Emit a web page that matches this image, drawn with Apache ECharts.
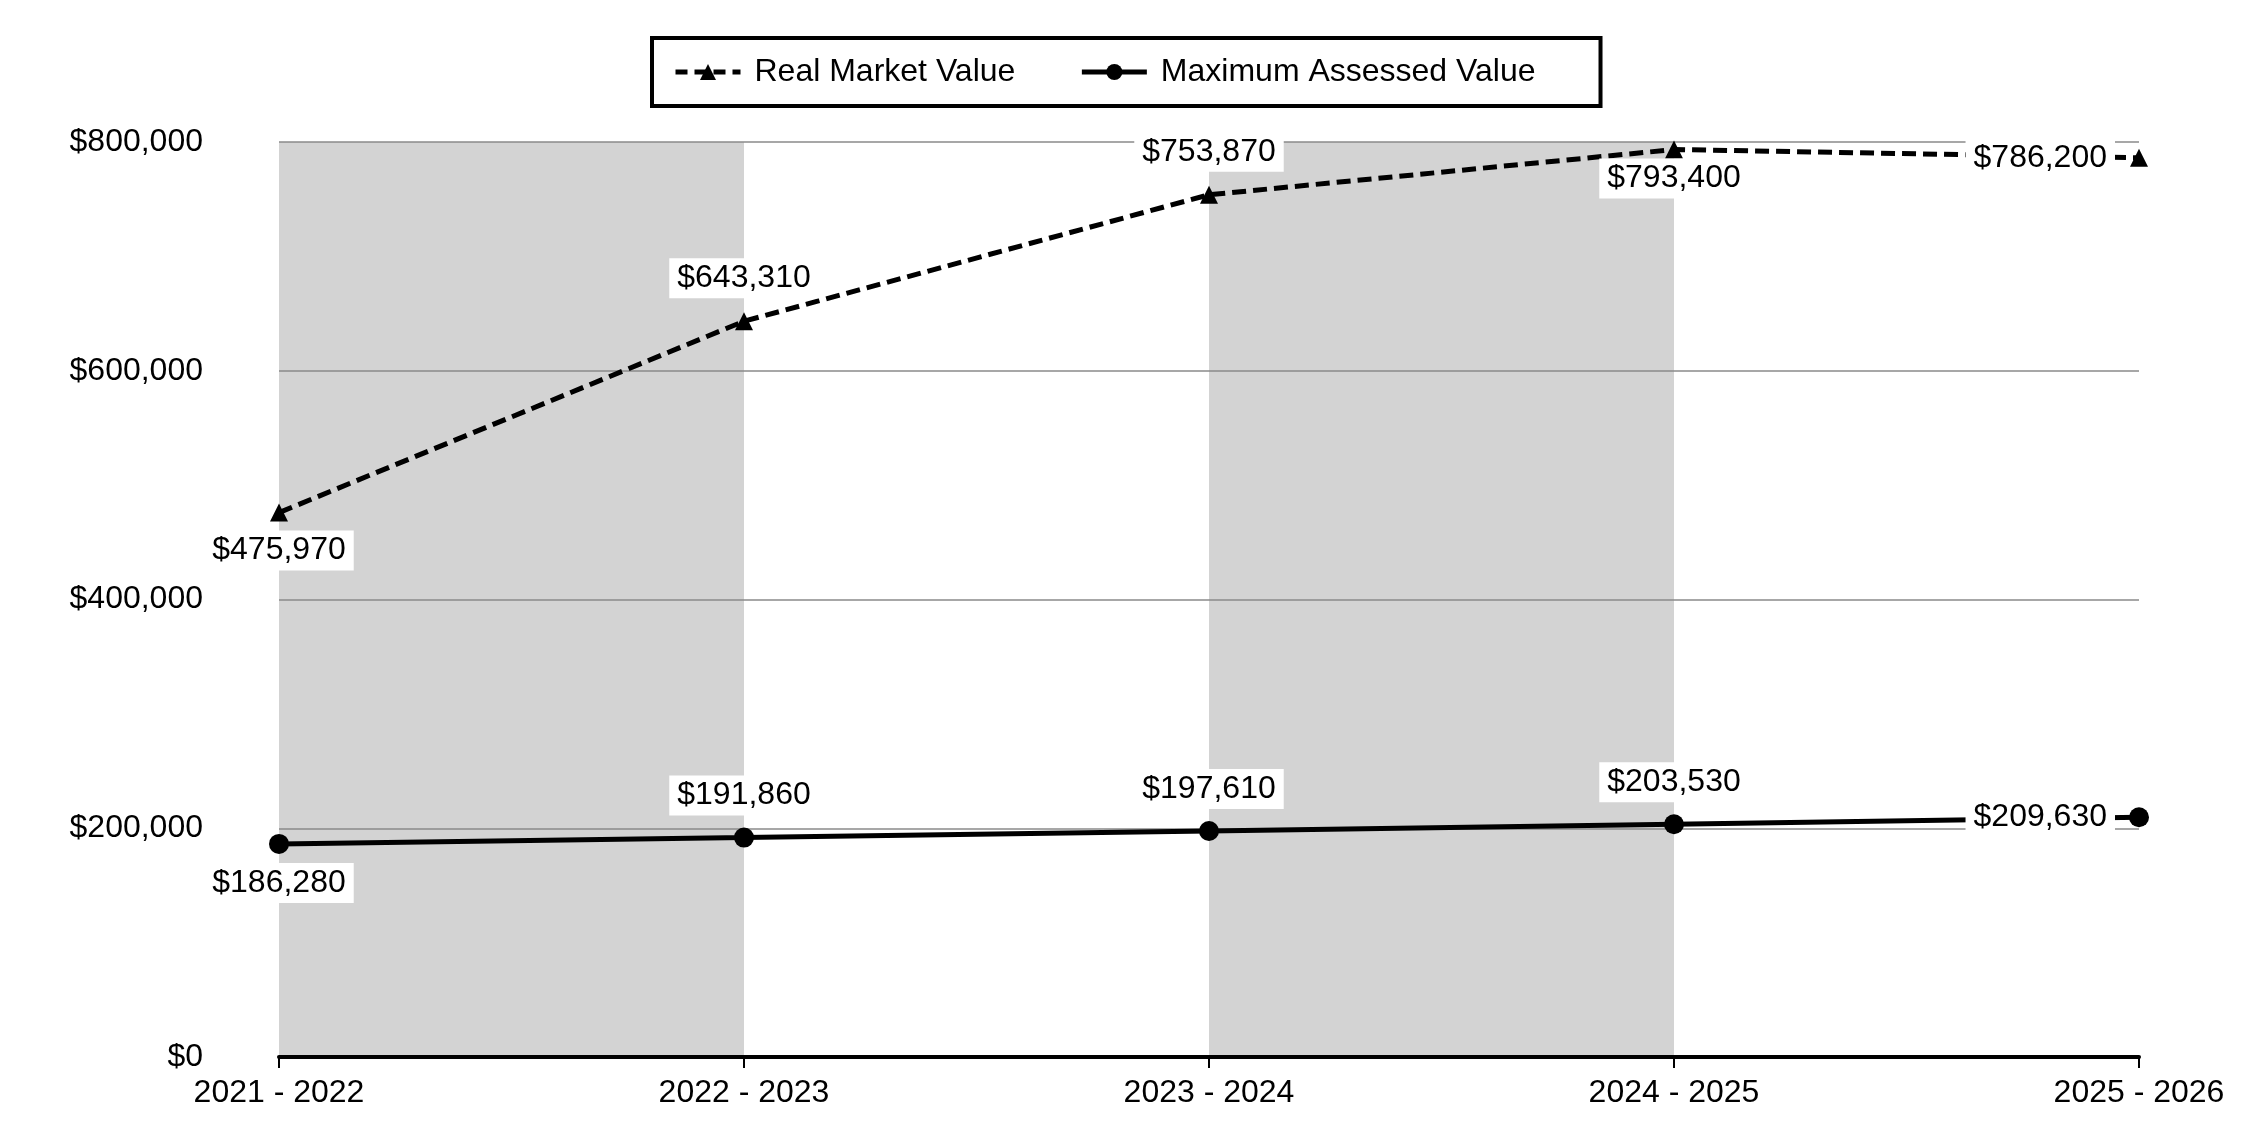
<!DOCTYPE html>
<html>
<head>
<meta charset="utf-8">
<script src="https://cdn.jsdelivr.net/npm/echarts@6/dist/echarts.min.js"></script>
<style>
  html, body { margin: 0; padding: 0; background: #ffffff; }
  #chart { width: 2250px; height: 1140px; }
</style>
</head>
<body>
<div id="chart"></div>
<script>
// ---- data ----
const categories = ['2021 - 2022', '2022 - 2023', '2023 - 2024', '2024 - 2025', '2025 - 2026'];
const realMarketValue = [475970, 643310, 753870, 793400, 786200];
const maxAssessedValue = [186280, 191860, 197610, 203530, 209630];
const seriesNames = ['Real Market Value', 'Maximum Assessed Value'];
const yTicks = { min: 0, max: 800000, interval: 200000 };

// ---- label placement (style only) ----
const rmvLabelPlace = [
  { position: 'bottom', distance: 9 },
  { position: 'top', distance: 14 },
  { position: 'top', distance: 14 },
  { position: 'bottom', distance: 0 },
  { position: 'left', distance: 15 }
];
const mavLabelPlace = [
  { position: 'bottom', distance: 9 },
  { position: 'top', distance: 12 },
  { position: 'top', distance: 12 },
  { position: 'top', distance: 12 },
  { position: 'left', distance: 14 }
];

const FONT = '"Liberation Sans", Arial, sans-serif';
const money = v => '$' + Number(v).toLocaleString('en-US');

function buildData(values, places) {
  return values.map((v, i) => ({
    value: v,
    label: { position: places[i].position, distance: places[i].distance }
  }));
}

const labelStyle = {
  show: true,
  formatter: p => money(p.value),
  color: '#000',
  fontSize: 32,
  fontFamily: FONT,
  backgroundColor: '#ffffff',
  padding: [4, 8]
};

const chart = echarts.init(document.getElementById('chart'), null, { renderer: 'canvas' });
chart.setOption({
  animation: false,
  backgroundColor: '#ffffff',
  grid: { left: 279, right: 111, top: 142, bottom: 83, containLabel: false },
  legend: {
    data: [
      { name: seriesNames[0], lineStyle: { width: 5, type: [12, 7], color: '#000' } },
      { name: seriesNames[1], lineStyle: { width: 5, type: 'solid', color: '#000' } }
    ],
    left: 652,
    top: 38,
    orient: 'horizontal',
    borderColor: '#000',
    borderWidth: 4,
    padding: [18, 65, 18, 21],
    itemWidth: 65,
    itemHeight: 20,
    itemGap: 64,
    textStyle: { color: '#000', fontSize: 32, fontFamily: FONT, padding: [0, 0, 0, 9] }
  },
  xAxis: {
    type: 'category',
    data: categories,
    boundaryGap: false,
    z: 0,
    axisLine: { show: true, lineStyle: { color: '#000', width: 4 } },
    axisTick: { show: true, length: 11, lineStyle: { color: '#000', width: 2 } },
    axisLabel: { color: '#000', fontSize: 32, fontFamily: FONT, margin: 20 },
    splitLine: { show: false },
    splitArea: { show: true, areaStyle: { color: ['#d3d3d3', '#ffffff'] } }
  },
  yAxis: {
    type: 'value',
    min: yTicks.min,
    max: yTicks.max,
    interval: yTicks.interval,
    z: 1,
    axisLine: { show: false },
    axisTick: { show: false },
    axisLabel: { color: '#000', fontSize: 32, fontFamily: FONT, margin: 76, formatter: v => money(v) },
    splitLine: { show: true, showMinLine: false, lineStyle: { color: '#8a8a8a', width: 1.5 } }
  },
  series: [
    {
      name: seriesNames[0],
      type: 'line',
      data: buildData(realMarketValue, rmvLabelPlace),
      symbol: 'triangle',
      symbolSize: 18,
      showAllSymbol: true,
      itemStyle: { color: '#000' },
      lineStyle: { color: '#000', width: 5, type: [14, 7] },
      label: labelStyle,
      z: 3
    },
    {
      name: seriesNames[1],
      type: 'line',
      data: buildData(maxAssessedValue, mavLabelPlace),
      symbol: 'circle',
      symbolSize: 20,
      showAllSymbol: true,
      itemStyle: { color: '#000' },
      lineStyle: { color: '#000', width: 5, type: 'solid' },
      label: labelStyle,
      z: 3
    }
  ]
});
</script>
</body>
</html>
